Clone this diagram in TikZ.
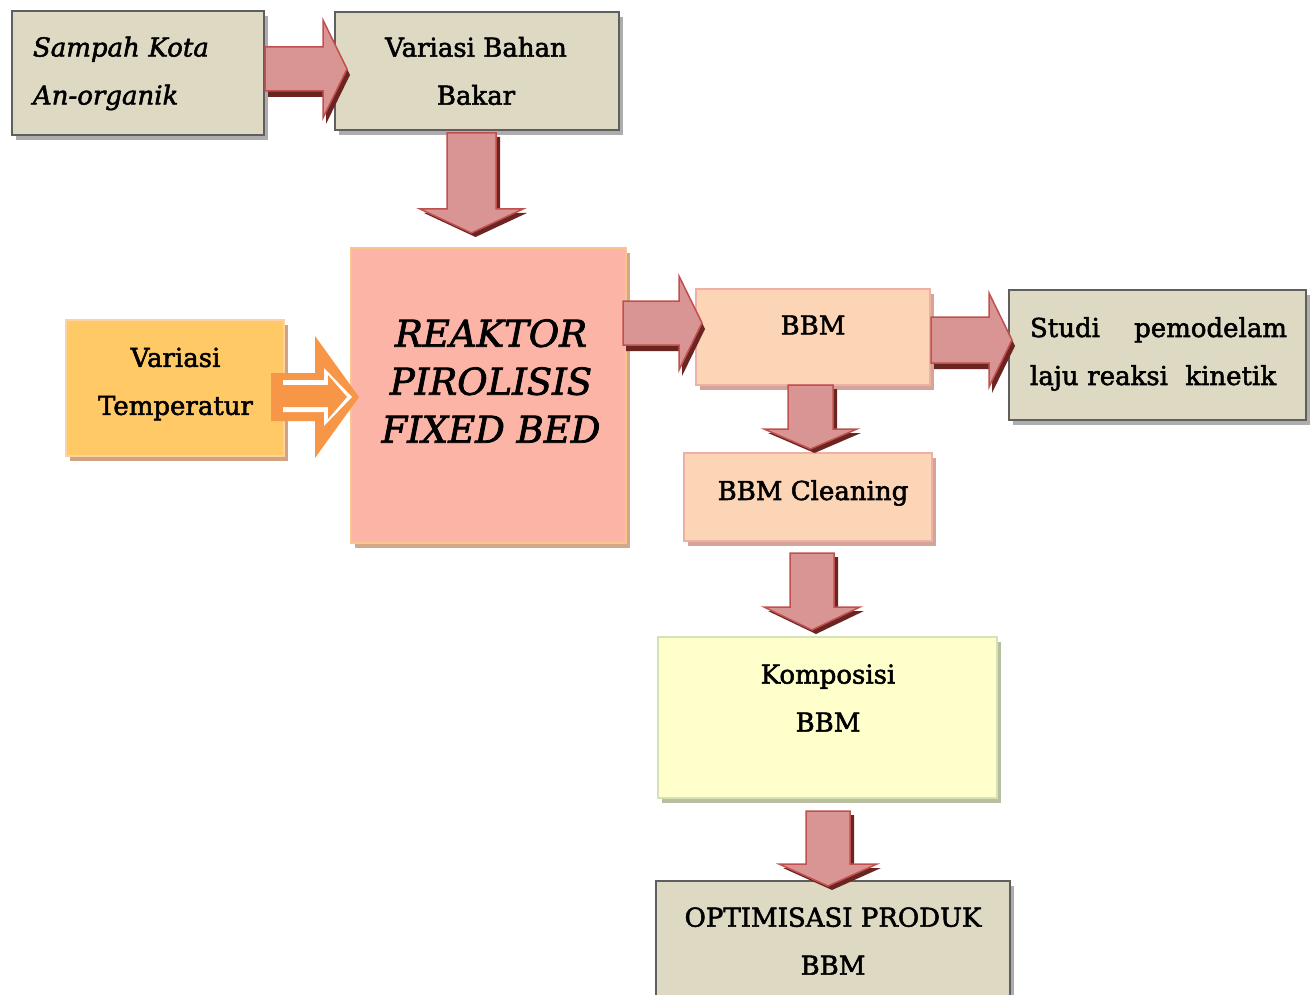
\documentclass[tikz,border=0pt]{standalone}
\usepackage{fontspec}
\setmainfont{DejaVu Serif}[UprightFeatures={FakeBold=2},ItalicFeatures={FakeBold=2}]
\usetikzlibrary{calc,shadows}
\definecolor{grayfill}{HTML}{DDD9C3}
\definecolor{grayline}{HTML}{5F5F5F}
\definecolor{grayshadow}{HTML}{ADADAD}
\definecolor{reakfill}{HTML}{FBB4A6}
\definecolor{reakline}{HTML}{F9C48F}
\definecolor{reakshadow}{HTML}{D2A889}
\definecolor{tempfill}{HTML}{FFCA66}
\definecolor{templine}{HTML}{FAD2A5}
\definecolor{tempshadow}{HTML}{D1A47F}
\definecolor{peachfill}{HTML}{FBD5B5}
\definecolor{peachline}{HTML}{EEB0A4}
\definecolor{peachshadow}{HTML}{D4A39A}
\definecolor{yelfill}{HTML}{FFFFCC}
\definecolor{yelline}{HTML}{D4E2B6}
\definecolor{yelshadow}{HTML}{B7BF9F}
\definecolor{arfill}{HTML}{D99594}
\definecolor{arline}{HTML}{C0504D}
\definecolor{arshadow}{HTML}{6A2422}
\definecolor{orarrow}{HTML}{F79646}
\tikzset{
  bx/.style={rectangle, inner sep=0pt, outer sep=0pt, line width=2pt},
  graybox/.style={bx, fill=grayfill, draw=grayline, line width=2.5pt,
    drop shadow={shadow xshift=4pt, shadow yshift=-5pt, fill=grayshadow, opacity=1}},
  reakbox/.style={bx, fill=reakfill, draw=reakline,
    drop shadow={shadow xshift=4pt, shadow yshift=-5pt, fill=reakshadow, opacity=1}},
  tempbox/.style={bx, fill=tempfill, draw=templine,
    drop shadow={shadow xshift=4pt, shadow yshift=-5pt, fill=tempshadow, opacity=1}},
  peachbox/.style={bx, fill=peachfill, draw=peachline,
    drop shadow={shadow xshift=4pt, shadow yshift=-5pt, fill=peachshadow, opacity=1}},
  yelbox/.style={bx, fill=yelfill, draw=yelline,
    drop shadow={shadow xshift=4pt, shadow yshift=-5pt, fill=yelshadow, opacity=1}},
  txt/.style={font=\fontsize{26}{48}\selectfont, align=center, inner sep=0pt},
  bigtxt/.style={font=\fontsize{37}{48}\selectfont\itshape, align=center, inner sep=0pt},
  armain/.style={fill=arfill, draw=arline, line width=1.5pt, line join=miter},
  arshad/.style={fill=arshadow},
}
% horizontal block arrow: #1 tail, #2 tip, #3 shaft half, #4 head half, #5 head length
\newcommand\hpath[5]{($(#1)+(0,-#3)$) -- ($(#2)+(-#5,-#3)$) -- ($(#2)+(-#5,-#4)$) -- (#2) -- ($(#2)+(-#5,#4)$) -- ($(#2)+(-#5,#3)$) -- ($(#1)+(0,#3)$) -- cycle}
\newcommand\vpath[5]{($(#1)+(-#3,0)$) -- ($(#2)+(-#3,-#5)$) -- ($(#2)+(-#4,-#5)$) -- (#2) -- ($(#2)+(#4,-#5)$) -- ($(#2)+(#3,-#5)$) -- ($(#1)+(#3,0)$) -- cycle}
\newcommand\harrow[5]{%
  \fill[arshad, transform canvas={shift={(3pt,-6pt)}}] \hpath{#1}{#2}{#3}{#4}{#5};
  \filldraw[armain] \hpath{#1}{#2}{#3}{#4}{#5};}
\newcommand\varrow[5]{%
  \fill[arshad, transform canvas={shift={(4pt,-4pt)}}] \vpath{#1}{#2}{#3}{#4}{#5};
  \filldraw[armain] \vpath{#1}{#2}{#3}{#4}{#5};}
\begin{document}
\begin{tikzpicture}[x=1pt,y=-1pt]
\useasboundingbox (0,0) rectangle (1315,995);
\clip (0,0) rectangle (1315,995);
% boxes
\node[graybox, minimum width=252pt, minimum height=124pt] (b1) at (138,73) {};
\node[graybox, minimum width=284pt, minimum height=118pt] (b2) at (477,71) {};
\node[reakbox, minimum width=275pt, minimum height=295pt] (r) at (488.5,395.5) {};
\node[tempbox, minimum width=218pt, minimum height=136pt] (t) at (175,388) {};
\node[peachbox, minimum width=234pt, minimum height=96pt] (bbm) at (813,337) {};
\node[graybox, minimum width=297pt, minimum height=130pt] (st) at (1157.5,355) {};
\node[peachbox, minimum width=248pt, minimum height=88pt] (cl) at (808,497) {};
\node[yelbox, minimum width=339pt, minimum height=161pt] (ko) at (827.5,717.5) {};
\node[graybox, minimum width=354pt, minimum height=140pt] (op) at (833,951) {};
% connector end points
\path (b1.east) ++(1,-4) coordinate (a1s);
\path (b2.west) ++(12,-2) coordinate (a1e);
\path (b2.south) ++(-5.5,3) coordinate (a2s);
\path (r.north) ++(-17,-15) coordinate (a2e);
\path (r.east) ++(-3,-72.5) coordinate (a3s);
\path (bbm.west) ++(6,-14) coordinate (a3e);
\path (bbm.east) ++(1,3) coordinate (a4s);
\path (st.west) ++(3,-15) coordinate (a4e);
\path (bbm.south) ++(-2.5,0) coordinate (a5s);
\path (cl.north) ++(2.5,-4) coordinate (a5e);
\path (cl.south) ++(4,12) coordinate (a6s);
\path (ko.north) ++(-15.5,-7) coordinate (a6e);
\path (ko.south) ++(0.5,13) coordinate (a7s);
\path (op.north) ++(-5,5) coordinate (a7e);
% block arrows
\harrow{a1s}{a1e}{22}{49}{24}
\varrow{a2s}{a2e}{24.5}{51.5}{24}
\harrow{a3s}{a3e}{22}{47}{23}
\harrow{a4s}{a4e}{23}{47}{23}
\varrow{a5s}{a5e}{22.5}{46.5}{20}
\varrow{a6s}{a6e}{22}{48}{23}
\varrow{a7s}{a7e}{22}{49}{22}
% orange double arrow (temperature -> reactor)
\fill[orarrow] (271,373) -- (315,373) -- (315,336) -- (359,397) -- (315,458) -- (315,421) -- (271,421) -- cycle;
\fill[white] (283,380) -- (324,380) -- (324,368) -- (352,397) -- (324,426) -- (324,412) -- (283,412) -- cycle;
\fill[orarrow] (283,385) -- (328,385) -- (328,375) -- (347,397) -- (328,419) -- (328,407) -- (283,407) -- cycle;
% texts
\node[txt, font=\fontsize{26}{48}\selectfont\itshape, align=left, text width=210pt] (b1t) at (138,73.5) {Sampah Kota\\An-organik};
\node[txt] (b2t) at (476,71) {Variasi Bahan\\Bakar};
\node[bigtxt] (rt) at (491,381) {REAKTOR\\PIROLISIS\\FIXED BED};
\node[txt] (tt) at (175.5,384) {Variasi\\Temperatur};
\node[txt] (bbmt) at (813,325) {BBM};
\node[txt, align=left, text width=257pt] (stt) at (1158.5,354) {Studi\hfill pemodelam\\laju reaksi\ \ kinetik};
\node[txt] (clt) at (813,493) {BBM Cleaning};
\node[txt] (kot) at (828,698) {Komposisi\\BBM};
\node[txt] (opt) at (833,941) {OPTIMISASI PRODUK\\BBM};
\end{tikzpicture}
\end{document}
